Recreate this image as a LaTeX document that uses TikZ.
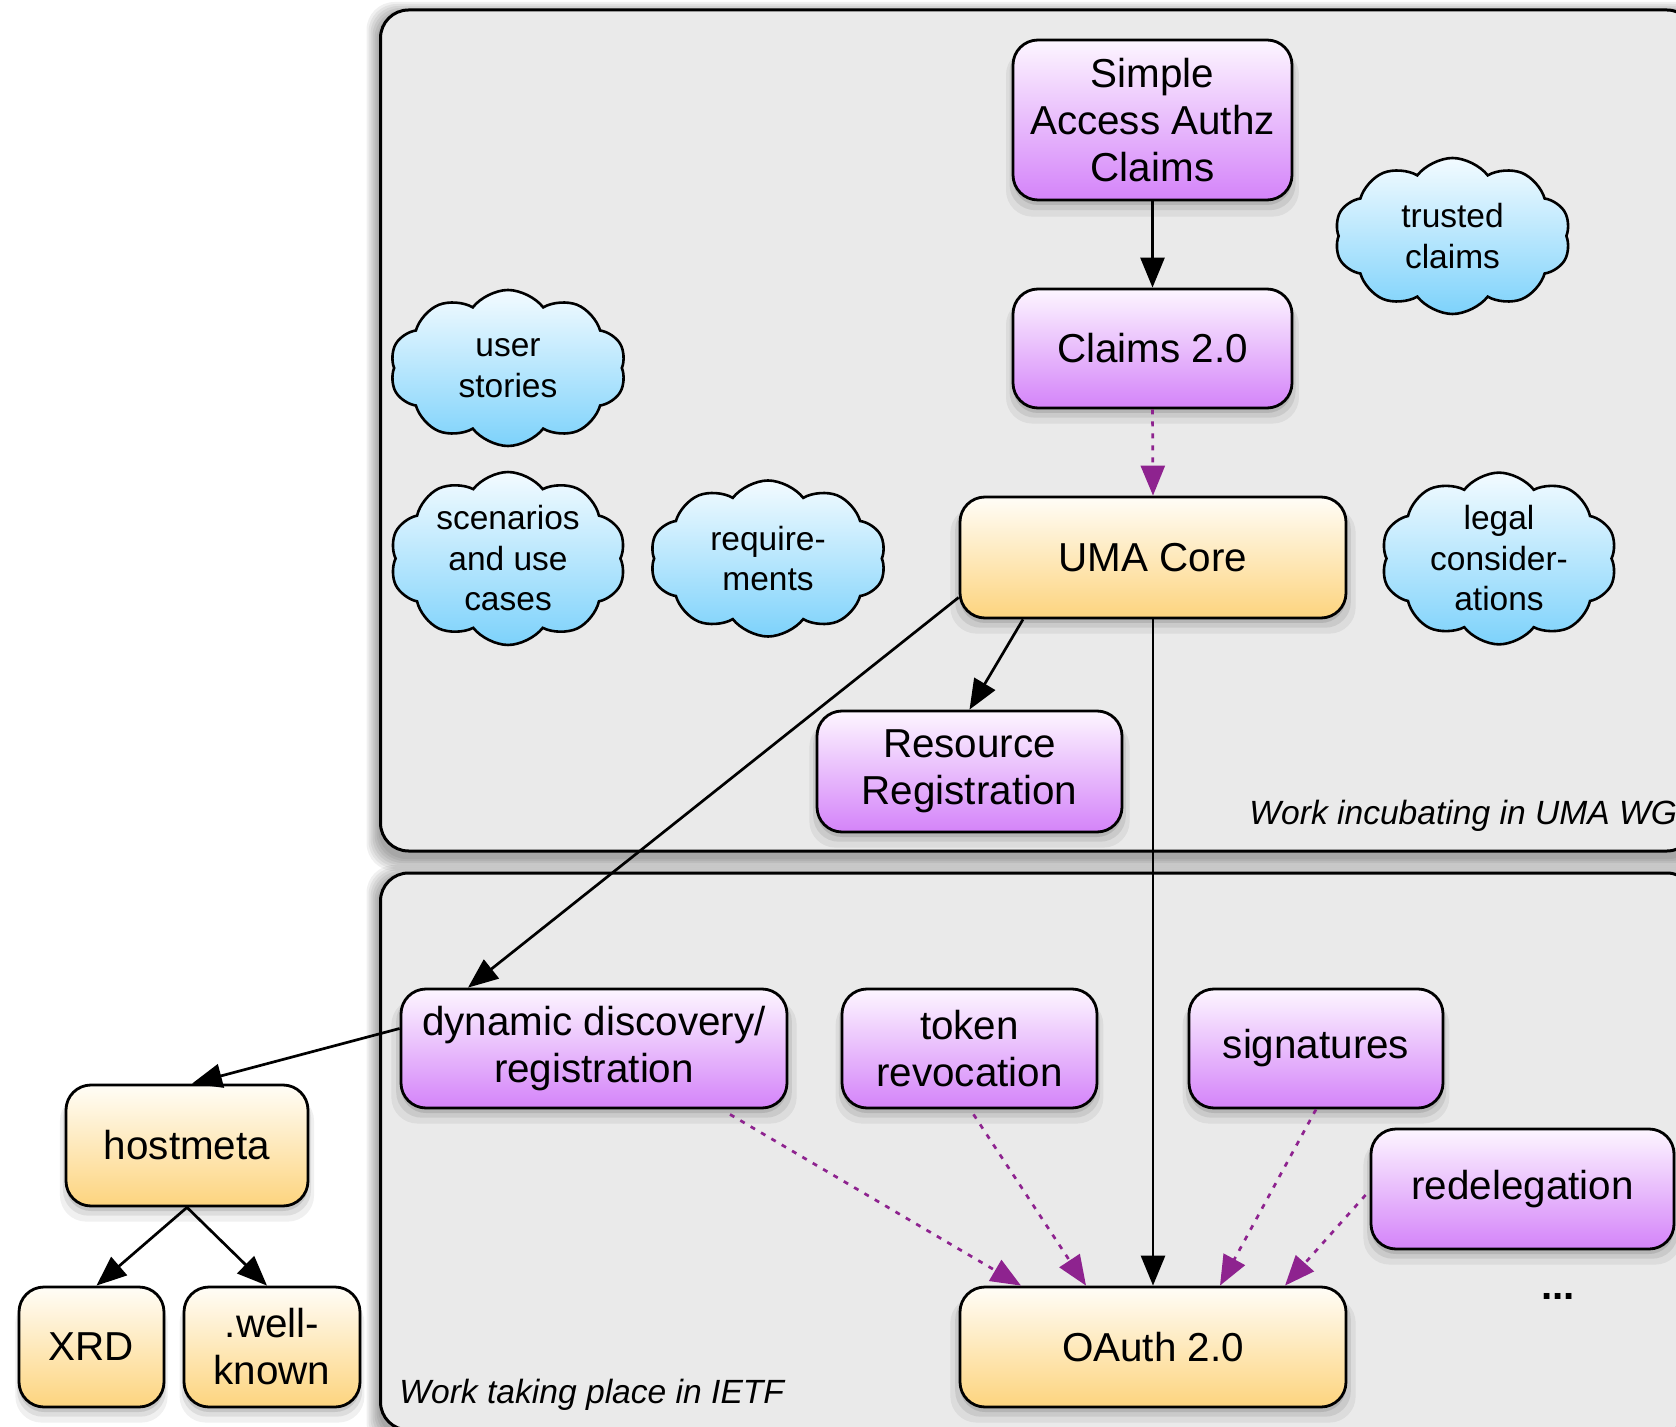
\documentclass[tikz,border=0pt]{standalone}
\usepackage{fontspec}
\setmainfont{Liberation Sans}
\usetikzlibrary{arrows.meta,shapes.symbols,shadows,calc}

\definecolor{panelgray}{HTML}{EAEAEA}
\definecolor{purtop}{HTML}{FDF6FF}
\definecolor{purbot}{HTML}{D483F9}
\definecolor{orgtop}{HTML}{FFFDF7}
\definecolor{orgbot}{HTML}{FDD47E}
\definecolor{cldtop}{HTML}{F3FBFF}
\definecolor{cldbot}{HTML}{7DD2FB}
\definecolor{arrpurple}{HTML}{8E238F}

\tikzset{
  softshadow/.style={
    general shadow={fill=black,opacity=0.06,shadow yshift=-6pt,shadow scale=1.05},
    general shadow={fill=black,opacity=0.08,shadow yshift=-4pt,shadow scale=1.025},
    general shadow={fill=black,opacity=0.10,shadow yshift=-2.5pt}},
  box/.style={draw=black, line width=1.4pt, rounded corners=12.5pt, align=center,
    font=\fontsize{20.2}{23.5}\selectfont, inner sep=0pt, softshadow},
  purplebox/.style={box, top color=purtop, bottom color=purbot},
  orangebox/.style={box, top color=orgtop, bottom color=orgbot},
  cloudnode/.style={cloud, cloud puffs=10, cloud puff arc=105, cloud ignores aspect,
    shape border rotate=18,
    draw=black, line width=1.3pt, top color=cldtop, bottom color=cldbot, align=center,
    font=\fontsize{16.75}{20.25}\selectfont, minimum width=118pt, minimum height=78pt, inner sep=0pt},
  solidarrow/.style={draw=black, line width=1.35pt, -{Triangle[length=15pt,width=12pt]}},
  dotarrow/.style={draw=arrpurple, line width=1.35pt, dash pattern=on 2.5pt off 3.5pt,
    -{Triangle[length=15pt,width=12pt]}},
  panel/.style={draw=black, line width=1.5pt, fill=panelgray, rounded corners=14pt},
  lbl/.style={font=\fontsize{16.8}{20}\selectfont\itshape, anchor=west, inner sep=0pt},
}

\begin{document}
\begin{tikzpicture}[x=0.5pt,y=-0.5pt]
\useasboundingbox (0,0) rectangle (1676,1427);
\clip (0,0) rectangle (1676,1427);

% panel shadows
\foreach \d in {2,4,...,14} {
  \fill[black,opacity=0.06,rounded corners=14pt] (380.5-\d,16-\d) rectangle (1695+\d,857+\d);
  \fill[black,opacity=0.06,rounded corners=14pt] (380.5-\d,879-\d) rectangle (1695+\d,1436+\d);
}
% panels
\draw[panel] (380.5,10) rectangle (1695,851);
\draw[panel] (380.5,873) rectangle (1695,1430);

% labels
\node[lbl] (lblwg) at (1249,816) {Work incubating in UMA WG};
\node[lbl] (lblietf) at (399,1395) {Work taking place in IETF};

% clouds
\node[cloudnode] (trusted) at (1452.5,236) {trusted\\claims};
\node[cloudnode] (user) at (508,368) {user\\stories};
\node[cloudnode] (scen) at (508,558.5) {scenarios\\and use\\cases};
\node[cloudnode] (req) at (768,558.5) {require-\\ments};
\node[cloudnode] (legal) at (1499,558.5) {legal\\consider-\\ations};

% boxes
\node[purplebox, minimum width=139.5pt, minimum height=80pt] (simple) at (1152.5,120) {Simple\\Access Authz\\Claims};
\node[purplebox, minimum width=139.5pt, minimum height=59.5pt] (claims) at (1152.5,348.5) {Claims 2.0};
\node[orangebox, minimum width=193pt, minimum height=60.5pt] (uma) at (1153,557.5) {UMA Core};
\node[purplebox, minimum width=152.5pt, minimum height=60.5pt] (resreg) at (969.5,771.5) {Resource\\Registration};
\node[purplebox, minimum width=193pt, minimum height=59.5pt] (dyn) at (594,1048.5) {dynamic discovery/\\registration};
\node[purplebox, minimum width=127.5pt, minimum height=59.5pt] (token) at (969.5,1048.5) {token\\revocation};
\node[purplebox, minimum width=127pt, minimum height=59.5pt] (sig) at (1316,1048.5) {signatures};
\node[purplebox, minimum width=151.5pt, minimum height=60pt] (redel) at (1522.5,1189) {redelegation};
\node[orangebox, minimum width=193pt, minimum height=60pt] (oauth) at (1153,1347) {OAuth 2.0};
\node[orangebox, minimum width=121pt, minimum height=60.5pt] (hostmeta) at (187,1145.5) {hostmeta};
\node[orangebox, minimum width=72.5pt, minimum height=60pt] (xrd) at (91.5,1347) {XRD};
\node[orangebox, minimum width=88pt, minimum height=60pt] (wk) at (272,1347) {.well-\\known};
\node[font=\fontsize{20.2}{23.5}\selectfont\bfseries, inner sep=0pt] (dots) at (1558,1296) {...};

% connectors
\draw[solidarrow] (simple.south) -- (claims.north);
\draw[dotarrow] (claims.south) -- (uma.north);
\draw[solidarrow] ($(uma.south)+(-130,0)$) -- (resreg.north);
\draw[solidarrow] ($(uma.west)+(0,40)$) -- ($(dyn.north)+(-126,0)$);
\draw[solidarrow] (uma.south) -- (oauth.north);
\draw[solidarrow] ($(dyn.west)+(0,-20)$) -- ($(hostmeta.north)+(5,0)$);
\draw[solidarrow] (hostmeta.south) -- ($(xrd.north)+(5,0)$);
\draw[solidarrow] (hostmeta.south) -- ($(wk.north)+(-5,0)$);
\draw[dotarrow] ($(dyn.south)+(136,5)$) -- ($(oauth.north)+(-132,0)$);
\draw[dotarrow] ($(token.south)+(4,5)$) -- ($(oauth.north)+(-67,0)$);
\draw[dotarrow] (sig.south) -- ($(oauth.north)+(67,0)$);
\draw[dotarrow] ($(redel.west)+(-4,6)$) -- ($(oauth.north)+(132,0)$);
\end{tikzpicture}
\end{document}
